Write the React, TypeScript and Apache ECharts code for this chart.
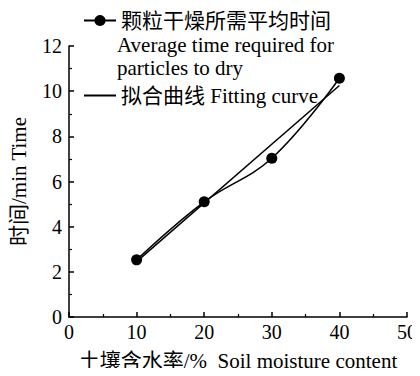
import React, { useEffect, useRef } from "react";
import * as echarts from "echarts";

const moisture = [10, 20, 30, 40];
const dryTime = [2.53, 5.1, 7.03, 10.57];
const fitX = [10, 40];
const fitY = [2.45, 10.25];
const seriesNames = ["颗粒干燥所需平均时间", "拟合曲线 Fitting curve"];
const legendExtra = "Average time required for\nparticles to dry";
const xName = "土壤含水率/%  Soil moisture content";
const yName = "时间/min Time";

const FONT = "'Liberation Serif', 'Noto Sans CJK SC', serif";

export default function App() {
  const ref = useRef<HTMLDivElement>(null);
  useEffect(() => {
    if (!ref.current) return;
    const chart = echarts.init(ref.current, null, { renderer: "svg" });
    const axisCommon = {
      axisLine: { show: true, lineStyle: { color: "#000", width: 1.5 } },
      axisTick: { show: true, inside: true, length: 5, lineStyle: { color: "#000", width: 1.5 } },
      minorTick: { show: true, splitNumber: 2, length: 3, lineStyle: { color: "#000", width: 1.2 } },
      splitLine: { show: false },
      axisLabel: { color: "#000", fontFamily: FONT, fontSize: 20 },
      nameTextStyle: { color: "#000", fontFamily: FONT, fontSize: 21 },
    };
    chart.setOption({
      animation: false,
      grid: { left: 67, right: 12, top: 46, bottom: 55, containLabel: false },
      xAxis: {
        type: "value",
        min: 0,
        max: 50,
        interval: 10,
        name: xName,
        nameLocation: "middle",
        nameGap: 33,
        ...axisCommon,
        axisLabel: { ...axisCommon.axisLabel, margin: 5 },
      },
      yAxis: {
        type: "value",
        min: 0,
        max: 12,
        interval: 2,
        name: yName,
        nameLocation: "middle",
        nameGap: 40,
        ...axisCommon,
        axisLabel: { ...axisCommon.axisLabel, margin: 7 },
      },
      legend: [
        {
          left: 78,
          top: 5,
          itemWidth: 32,
          itemHeight: 14,
          data: [seriesNames[0]],
          textStyle: { color: "#000", fontFamily: FONT, fontSize: 21 },
        },
        {
          left: 78,
          top: 80,
          itemWidth: 32,
          itemHeight: 14,
          itemStyle: { opacity: 0 },
          data: [seriesNames[1]],
          textStyle: { color: "#000", fontFamily: FONT, fontSize: 21 },
        },
      ],
      graphic: [
        {
          type: "text",
          left: 117,
          top: 33,
          style: {
            text: legendExtra,
            fill: "#000",
            font: `21px ${FONT}`,
            lineHeight: 23,
          },
        },
      ],
      series: [
        {
          name: seriesNames[0],
          type: "line",
          smooth: 0.4,
          symbol: "circle",
          symbolSize: 11,
          data: moisture.map((x, i) => [x, dryTime[i]]),
          lineStyle: { color: "#000", width: 1.5 },
          itemStyle: { color: "#000" },
        },
        {
          name: seriesNames[1],
          type: "line",
          symbol: "none",
          showSymbol: false,
          data: fitX.map((x, i) => [x, fitY[i]]),
          lineStyle: { color: "#000", width: 1.5 },
          itemStyle: { color: "#000" },
        },
      ],
    });
    return () => chart.dispose();
  }, []);
  return <div ref={ref} style={{ width: 420, height: 376, margin: -8 }} />;
}
